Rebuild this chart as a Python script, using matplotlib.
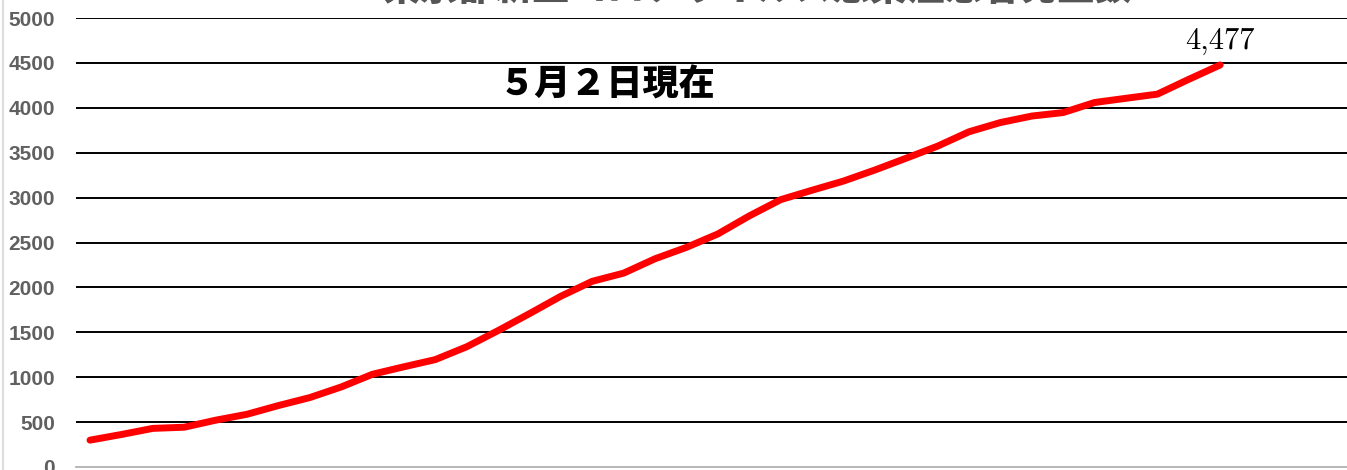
import numpy as np
import matplotlib.pyplot as plt
from matplotlib.lines import Line2D

# Tokyo cumulative cases, 3/27 .. 5/2
dates = ['3/27', '3/28', '3/29', '3/30', '3/31', '4/1', '4/2', '4/3', '4/4', '4/5',
         '4/6', '4/7', '4/8', '4/9', '4/10', '4/11', '4/12', '4/13', '4/14', '4/15',
         '4/16', '4/17', '4/18', '4/19', '4/20', '4/21', '4/22', '4/23', '4/24', '4/25',
         '4/26', '4/27', '4/28', '4/29', '4/30', '5/1', '5/2']
cases = [299, 362, 430, 443, 521, 587, 684, 773, 891, 1033,
         1116, 1196, 1339, 1519, 1708, 1902, 2068, 2159, 2319, 2446,
         2595, 2796, 2977, 3082, 3184, 3307, 3439, 3573, 3733, 3836,
         3908, 3947, 4059, 4106, 4152, 4317, 4477]
yticks = list(range(0, 5001, 500))

title = '東京都新型コロナウイルス感染症患者発生数'
note = '５月２日現在'

fig = plt.figure(figsize=(13.47, 4.70), dpi=100)
ax = fig.add_axes([76 / 1347, 3 / 470, 1 - 76 / 1347, 449 / 470])

x = np.arange(len(cases))
ax.plot(x, cases, color='#ff0000', lw=5, solid_capstyle='round', solid_joinstyle='round', zorder=3)

ax.set_xlim(-0.446, 40.04)
ax.set_ylim(0, 5000)
ax.set_yticks(yticks)
ax.set_xticks([])
for t in yticks[1:]:
    ax.axhline(t, color='black', lw=1.4, zorder=1)

for s in ['top', 'right', 'left']:
    ax.spines[s].set_visible(False)
ax.spines['bottom'].set_color('#aaaaaa')
ax.spines['bottom'].set_linewidth(1.2)
ax.tick_params(axis='y', length=0, pad=15, labelcolor='#606060')
for lab in ax.get_yticklabels():
    lab.set_fontfamily('Liberation Sans')
    lab.set_fontweight('bold')
    lab.set_fontsize(15)

ax.annotate(f'{cases[-1]:,}', (x[-1], cases[-1]), xytext=(0, 7), textcoords='offset points',
            ha='center', va='bottom', fontsize=22, fontfamily='cmr10')

fig.text(607 / 1347, 1 - 85 / 470, note, ha='center', va='center', fontsize=26,
         fontweight='heavy', family=['Noto Sans CJK JP', 'DejaVu Sans'])
fig.text(757 / 1347, 1 - 8 / 470, title, ha='center', va='bottom', fontsize=27,
         fontweight='heavy', color='#555555', family=['Noto Sans CJK JP', 'DejaVu Sans'])

fig.add_artist(Line2D([3 / 1347, 3 / 1347], [0, 1], color='#dddddd', lw=1.5))

fig.savefig('out.png', dpi=100)
